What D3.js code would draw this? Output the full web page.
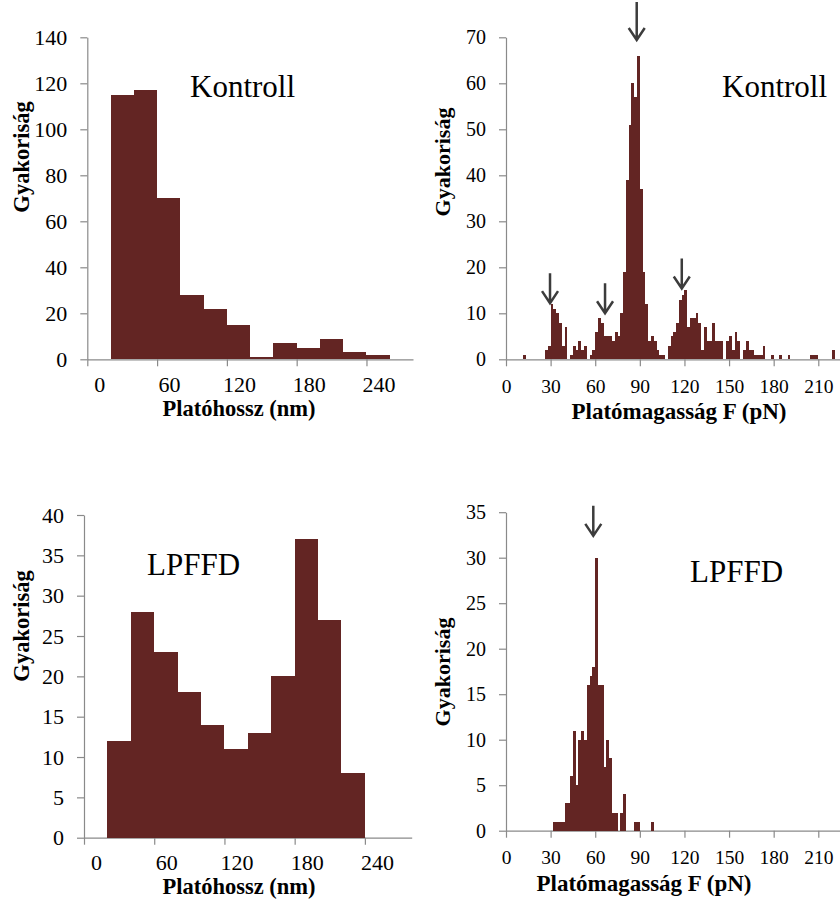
<!DOCTYPE html>
<html>
<head>
<meta charset="utf-8">
<script src="https://cdn.jsdelivr.net/npm/d3@7"></script>
<style>
  body { margin: 0; background: #fff; }
  svg { display: block; }
  text { font-family: "Liberation Serif", "Times New Roman", serif; fill: #000; }
</style>
</head>
<body>
<svg id="chart" width="840" height="899"></svg>
<script>
// ---------------- DATA ----------------
const lengthBinWidth = 20;
const lengthBinStartsKontroll = [20, 40, 60, 80, 100, 120, 140, 160, 180, 200, 220, 240];
const lengthCountsKontroll    = [115, 117, 70, 28, 22, 15, 1, 7, 5, 9, 3, 2];
const lengthBinStartsLPFFD = [20, 40, 60, 80, 100, 120, 140, 160, 180, 200, 220];
const lengthCountsLPFFD    = [12, 28, 23, 18, 14, 11, 13, 20, 37, 27, 8];

const forceBinWidth = 1.875; // pN, bins start at 0
const forceCountsKontroll = [
  0, 0, 0, 0, 0, 0, 1, 0, 0, 0,
  0, 0, 0, 0, 2, 3, 12, 11, 10, 8,
  3, 7, 0, 1, 3, 2, 4, 2, 3, 0,
  1, 2, 6, 9, 8, 5, 5, 5, 4, 6,
  5, 10, 19, 39, 51, 60, 57, 66, 37, 19,
  12, 4, 5, 4, 2, 1, 1, 0, 3, 5,
  6, 8, 13, 14, 15, 7, 9, 9, 10, 8,
  2, 7, 4, 4, 8, 4, 4, 4, 0, 4,
  5, 2, 6, 4, 0, 2, 4, 2, 2, 1,
  1, 1, 3, 0, 0, 1, 0, 0, 1, 0,
  0, 1, 0, 0, 0, 0, 0, 0, 0, 1,
  1, 1, 0, 0, 0, 0, 0, 2, 0, 0
];
const forceCountsLPFFD = [
  0, 0, 0, 0, 0, 0, 0, 0, 0, 0,
  0, 0, 0, 0, 0, 0, 0, 1, 1, 1,
  1, 3, 3, 6, 11, 5, 10, 11, 10, 16,
  17, 18, 30, 16, 16, 7, 10, 8, 2, 2,
  0, 2, 4, 0, 0, 0, 1, 1, 0, 0,
  0, 0, 1, 0, 0, 0, 0, 0, 0, 0
];

const lengthTicks = [0, 60, 120, 180, 240];
const forceTicks = [0, 30, 60, 90, 120, 150, 180, 210];
const yTicksLengthKontroll = [0, 20, 40, 60, 80, 100, 120, 140];
const yTicksLengthLPFFD = [0, 5, 10, 15, 20, 25, 30, 35, 40];
const yTicksForceKontroll = [0, 10, 20, 30, 40, 50, 60, 70];
const yTicksForceLPFFD = [0, 5, 10, 15, 20, 25, 30, 35];

// peak markers (force in pN, count at arrow tip)
const arrowsKontroll = [
  { f: 29.6, c: 12.2 }, { f: 66.6, c: 10.0 }, { f: 87.9, c: 69.4 }, { f: 118.2, c: 15.4 }
];
const arrowsLPFFD = [ { f: 58.7, c: 32.4 } ];

const yTitle = "Gyakoriság";
const xTitleLength = "Platóhossz (nm)";
const xTitleForce = "Platómagasság F (pN)";

// ---------------- DRAWING ----------------
const svg = d3.select("#chart");
const barColor = "#632523";
const axisColor = "#8a8a8a";

function makeBins(starts, counts, w) {
  return starts.map((s, i) => ({ x0: s, x1: s + w, c: counts[i] }));
}
function makeForceBins(counts, w) {
  return counts.map((c, i) => ({ x0: i * w, x1: (i + 1) * w, c }));
}

function panel(cfg) {
  const g = svg.append("g");
  const x = d3.scaleLinear().domain(cfg.xDomain).range(cfg.xRange);
  const y = d3.scaleLinear().domain(cfg.yDomain).range(cfg.yRange);
  const y0 = y(0);

  // axes
  const xa = g.append("g").attr("transform", `translate(0,${y0})`)
    .call(d3.axisBottom(x).tickValues(cfg.xTicks).tickSize(7).tickSizeOuter(0).tickPadding(cfg.xPad));
  const ya = g.append("g").attr("transform", `translate(${cfg.xRange[0]},0)`)
    .call(d3.axisLeft(y).tickValues(cfg.yTicks).tickSize(7).tickSizeOuter(0).tickPadding(13));
  [xa, ya].forEach(a => {
    a.attr("font-family", null);
    a.select(".domain").attr("stroke", axisColor).attr("stroke-width", 1.2);
    a.selectAll(".tick line").attr("stroke", axisColor).attr("stroke-width", 1.2);
    a.selectAll("text").attr("fill", "#000")
      .style("font-family", '"Liberation Serif","Times New Roman",serif');
  });
  xa.selectAll("text").style("font-size", cfg.xTickFont + "px").attr("x", cfg.xLabelShift);
  ya.selectAll("text").style("font-size", cfg.yTickFont + "px");

  // bars
  g.append("g").selectAll("rect")
    .data(cfg.bins.filter(d => d.c > 0))
    .join("rect")
    .attr("x", d => x(d.x0))
    .attr("width", d => x(d.x1) - x(d.x0))
    .attr("y", d => y(d.c))
    .attr("height", d => y0 - y(d.c))
    .attr("fill", barColor)
    .attr("shape-rendering", "crispEdges");

  // arrows
  if (cfg.arrows) {
    const ag = g.append("g").attr("stroke", "#3c3c3c").attr("stroke-width", 2.5).attr("fill", "none");
    cfg.arrows.forEach((a, i) => {
      const ax = x(a.f), tip = y(a.c);
      const len = cfg.arrowLen[i];
      ag.append("path").attr("d",
        `M${ax},${tip - len}L${ax},${tip}M${ax - 8},${tip - 12}L${ax},${tip}L${ax + 8},${tip - 12}`);
    });
  }

  // titles
  g.append("text").attr("x", cfg.xTitlePos[0]).attr("y", cfg.xTitlePos[1])
    .attr("text-anchor", "middle").style("font-weight", "bold").style("font-size", cfg.titleFont + "px")
    .text(cfg.xTitle);
  g.append("text").attr("transform", `translate(${cfg.yTitlePos[0]},${cfg.yTitlePos[1]}) rotate(-90)`)
    .attr("text-anchor", "middle").style("font-weight", "bold").style("font-size", cfg.yTitleFont + "px")
    .text(yTitle);
  g.append("text").attr("x", cfg.labelPos[0]).attr("y", cfg.labelPos[1])
    .style("font-size", cfg.labelFont + "px").text(cfg.label);
}

// Top-left: plateau length, Kontroll
panel({
  bins: makeBins(lengthBinStartsKontroll, lengthCountsKontroll, lengthBinWidth),
  xDomain: [0, 280], xRange: [87.3, 413],
  yDomain: [0, 140], yRange: [359.3, 37.3],
  xTicks: lengthTicks, yTicks: yTicksLengthKontroll,
  xPad: 10, xLabelShift: 12, xTickFont: 22, yTickFont: 22,
  xTitle: xTitleLength, xTitlePos: [239, 416], titleFont: 22.5,
  yTitlePos: [28.5, 157], yTitleFont: 22.5,
  label: "Kontroll", labelPos: [190, 97], labelFont: 31
});

// Top-right: plateau force, Kontroll
panel({
  bins: makeForceBins(forceCountsKontroll, forceBinWidth),
  xDomain: [0, 225], xRange: [506, 840.6],
  yDomain: [0, 70], yRange: [359.3, 37.3],
  xTicks: forceTicks, yTicks: yTicksForceKontroll,
  xPad: 13, xLabelShift: 0, xTickFont: 19.5, yTickFont: 20,
  xTitle: xTitleForce, xTitlePos: [679, 419], titleFont: 23,
  yTitlePos: [450, 162], yTitleFont: 22,
  label: "Kontroll", labelPos: [722, 97], labelFont: 31,
  arrows: arrowsKontroll, arrowLen: [30, 30, 38, 30]
});

// Bottom-left: plateau length, LPFFD
panel({
  bins: makeBins(lengthBinStartsLPFFD, lengthCountsLPFFD, lengthBinWidth),
  xDomain: [0, 280], xRange: [84, 411.7],
  yDomain: [0, 40], yRange: [837.7, 515],
  xTicks: lengthTicks, yTicks: yTicksLengthLPFFD,
  xPad: 10, xLabelShift: 12, xTickFont: 22, yTickFont: 22,
  xTitle: xTitleLength, xTitlePos: [239, 894], titleFont: 22.5,
  yTitlePos: [28.5, 626], yTitleFont: 22.5,
  label: "LPFFD", labelPos: [147, 575], labelFont: 31
});

// Bottom-right: plateau force, LPFFD
panel({
  bins: makeForceBins(forceCountsLPFFD, forceBinWidth),
  xDomain: [0, 225], xRange: [506, 840.6],
  yDomain: [0, 35], yRange: [830.7, 512.2],
  xTicks: forceTicks, yTicks: yTicksForceLPFFD,
  xPad: 12, xLabelShift: 0, xTickFont: 19.5, yTickFont: 20,
  xTitle: xTitleForce, xTitlePos: [644, 891], titleFont: 23,
  yTitlePos: [450, 672], yTitleFont: 22,
  label: "LPFFD", labelPos: [690, 582], labelFont: 31,
  arrows: arrowsLPFFD, arrowLen: [30]
});
</script>
</body>
</html>
